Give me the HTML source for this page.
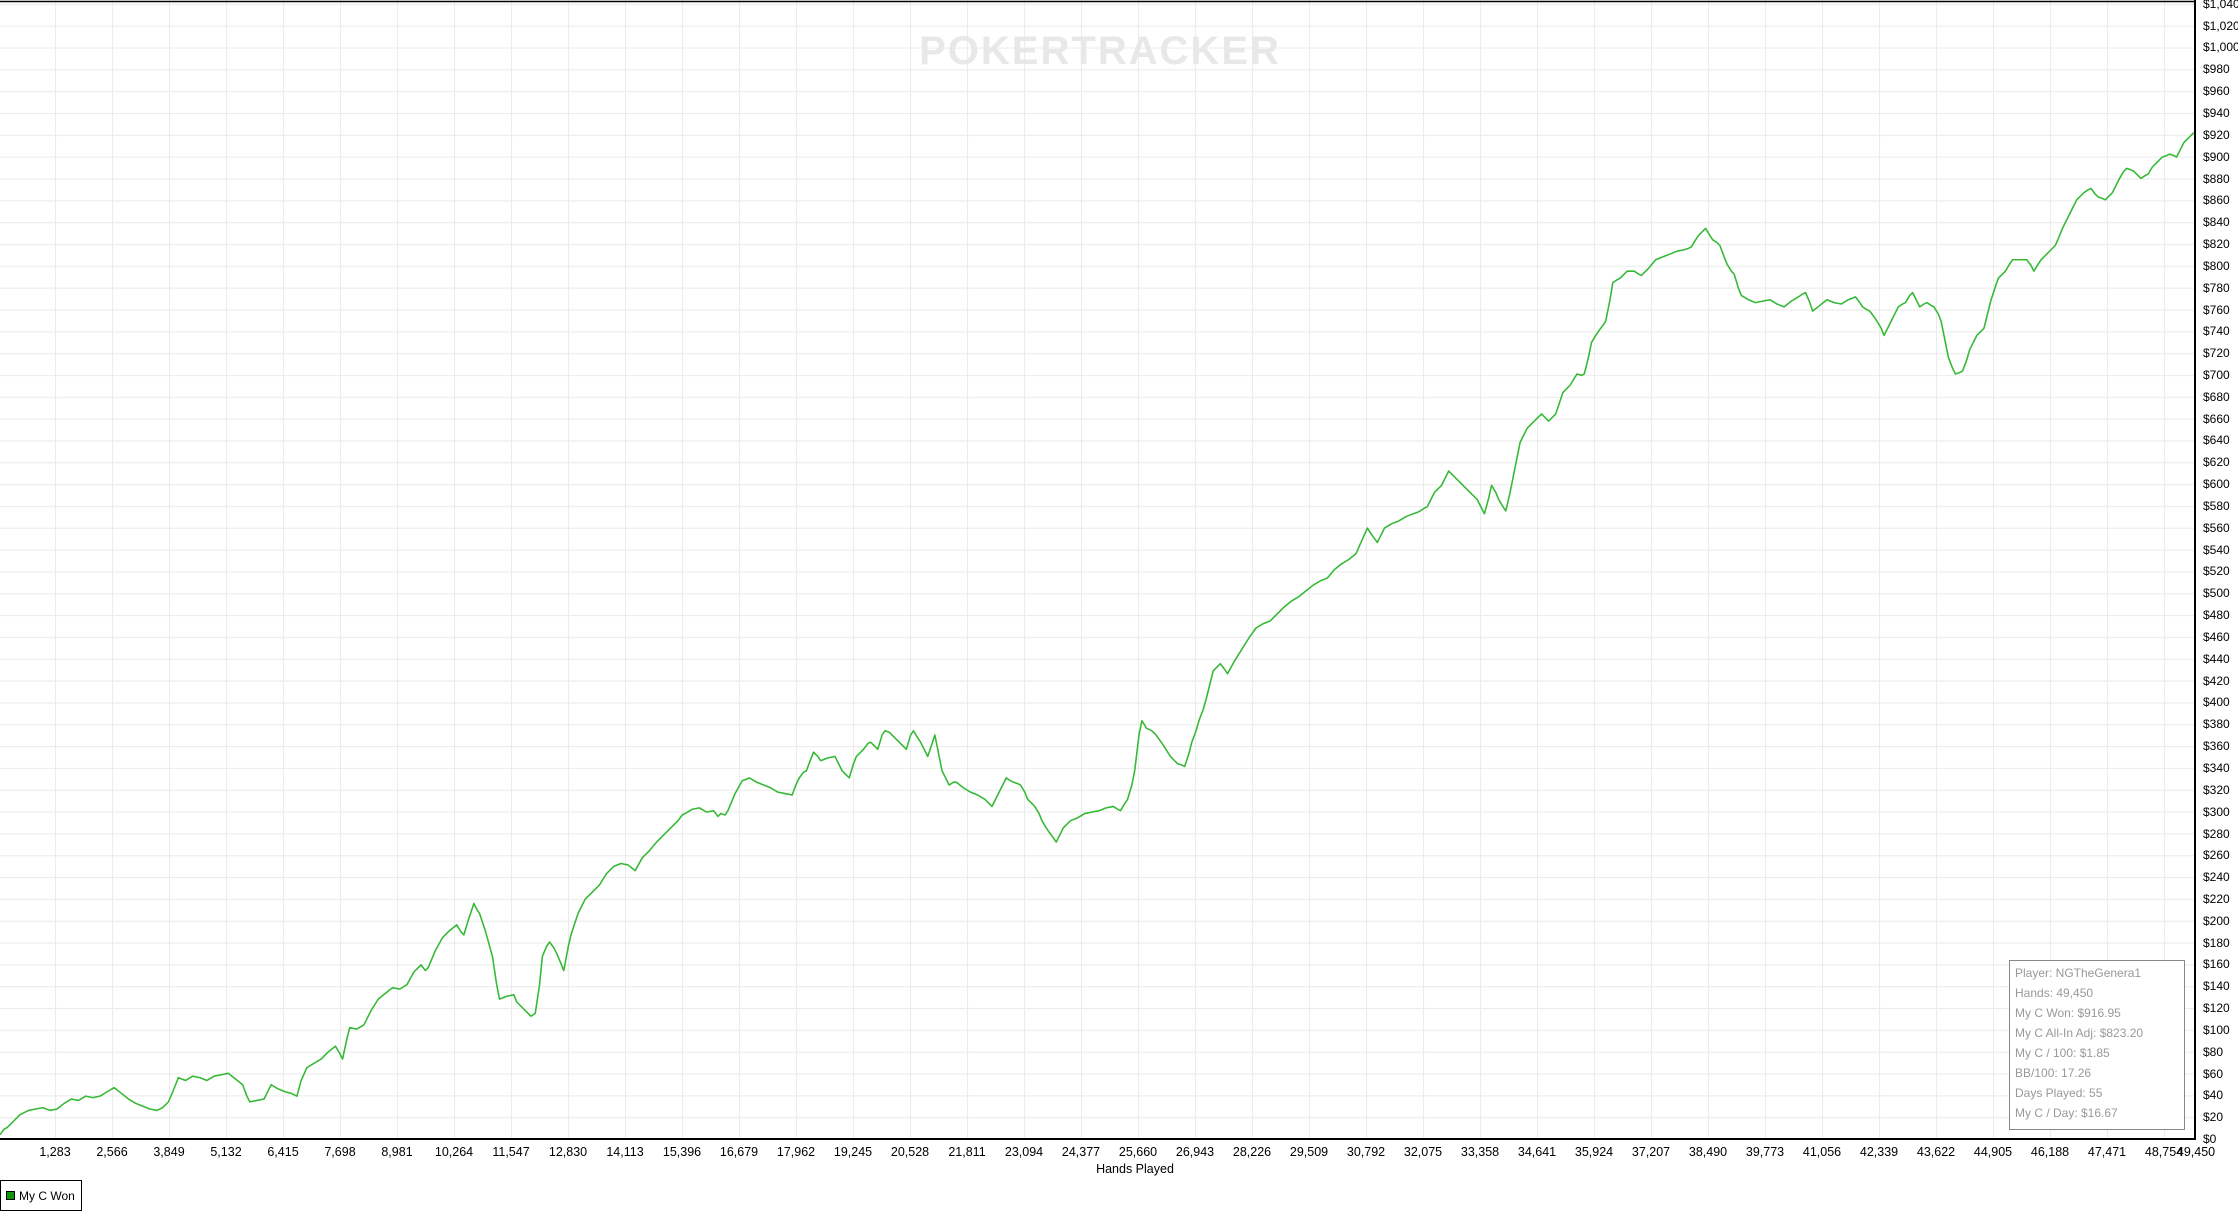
<!DOCTYPE html>
<html><head><meta charset="utf-8"><style>
html,body{margin:0;padding:0;background:#fff;}
svg{display:block;font-family:"Liberation Sans",sans-serif;}
</style></head><body>
<svg width="2238" height="1218" viewBox="0 0 2238 1218" xmlns="http://www.w3.org/2000/svg">
<defs>
<pattern id="hg" patternUnits="userSpaceOnUse" x="0" y="3.8" width="2195" height="21.83"><line x1="0" y1="0.5" x2="2195" y2="0.5" stroke="#ececec" stroke-width="1.2"/></pattern>
<pattern id="vg" patternUnits="userSpaceOnUse" x="-2" y="0" width="57" height="1139"><line x1="0.5" y1="0" x2="0.5" y2="1139" stroke="#ececec" stroke-width="1.2"/></pattern>
</defs>
<rect x="0" y="0" width="2195" height="1139" fill="url(#hg)"/>
<rect x="0" y="0" width="2195" height="1139" fill="url(#vg)"/>
<text x="1100" y="64" text-anchor="middle" font-size="40" font-weight="bold" fill="#e8e8e8" letter-spacing="2">POKERTRACKER</text>
<line x1="0" y1="1.5" x2="2196" y2="1.5" stroke="#000" stroke-width="1.5"/>
<line x1="0" y1="1139" x2="2196" y2="1139" stroke="#000" stroke-width="2"/>
<line x1="2195" y1="0" x2="2195" y2="1140" stroke="#000" stroke-width="2"/>
<g transform="scale(1.4273)" fill="none" stroke="#35b935" stroke-width="1.1" stroke-linejoin="round">
<polyline points="0,795 3,791 5,790 8,787 10,785 14,781 20,778 25,777 30,776 35,778 40,777 45,773 50,770 55,771 60,768 65,769 70,768 75,765 80,762 85,766 90,770 95,773 100,775 105,777 110,778 114,776 118,772 121,765 125,755 130,757 135,754 140,755 145,757 150,754 155,753 160,752 165,756 170,760 173,768 175,772 180,771 185,770 188,764 190,760 195,763 200,765 204,766 208,768 211,757 215,748 220,745 225,742 230,737 235,733 238,738 240,742 243,728 245,720 250,721 255,718 260,708 265,700 270,696 275,692 280,693 285,690 290,681 295,676 298,680 300,678 305,666 310,657 315,652 320,648 323,653 325,655 328,645 332,633 334,637 336,640 340,652 345,670 348,690 350,700 355,698 360,697 362,702 365,705 368,708 372,712 375,710 378,690 380,670 383,663 385,660 388,664 390,668 393,675 395,680 398,664 400,655 403,646 405,640 408,634 410,630 415,625 420,620 425,612 430,607 435,605 440,606 445,610 450,601 455,596 460,590 465,585 470,580 475,575 478,571 480,570 485,567 490,566 495,569 500,568 503,572 505,570 508,571 510,568 515,556 520,547 523,546 525,545 530,548 535,550 540,552 545,555 550,556 555,557 558,549 560,545 563,541 565,540 568,532 570,527 573,530 575,533 580,531 585,530 588,536 590,540 593,543 595,545 598,535 600,530 603,527 605,525 608,521 610,520 613,523 615,525 618,515 620,512 623,513 625,515 628,518 630,520 633,523 635,525 638,515 640,512 643,517 645,520 648,526 650,530 653,521 655,515 658,530 660,540 663,546 665,550 668,548 670,548 675,552 680,555 685,557 690,560 693,563 695,565 698,559 700,555 703,549 705,545 708,547 710,548 713,549 715,550 718,555 720,560 723,563 725,565 728,570 730,575 733,580 735,583 738,587 740,590 743,584 745,580 748,577 750,575 755,573 760,570 765,569 770,568 775,566 780,565 783,567 785,568 788,563 790,560 793,550 795,540 798,515 800,505 802,508 803,510 807,512 810,515 815,522 820,530 823,533 825,535 828,536 830,537 833,528 835,520 838,512 840,505 843,497 845,490 848,478 850,470 853,467 855,465 858,469 860,472 865,463 870,455 875,447 880,440 885,437 890,435 895,430 900,425 905,421 910,418 915,414 920,410 925,407 930,405 935,399 940,395 945,392 950,388 954,379 958,370 962,376 965,380 968,374 970,370 975,367 980,365 985,362 990,360 993,359 995,358 998,356 1000,355 1003,349 1005,345 1008,342 1010,340 1013,334 1015,330 1018,333 1020,335 1025,340 1030,345 1033,348 1035,350 1038,356 1040,360 1043,349 1045,340 1048,345 1050,350 1053,355 1055,358 1058,345 1060,335 1063,320 1065,310 1068,304 1070,300 1075,295 1080,290 1083,293 1085,295 1088,292 1090,290 1093,281 1095,275 1098,272 1100,270 1103,265 1105,262 1108,263 1110,262 1113,250 1115,240 1118,235 1120,232 1123,228 1125,225 1128,210 1130,198 1133,196 1135,195 1138,192 1140,190 1143,190 1145,190 1148,192 1150,193 1155,188 1160,182 1165,180 1170,178 1175,176 1180,175 1183,174 1185,173 1188,168 1190,165 1193,162 1195,160 1198,165 1200,168 1203,170 1205,172 1208,180 1210,185 1213,190 1215,192 1218,202 1220,207 1225,210 1230,212 1235,211 1240,210 1245,213 1250,215 1255,211 1260,208 1263,206 1265,205 1268,212 1270,218 1275,214 1280,210 1285,212 1290,213 1295,210 1300,208 1303,212 1305,215 1308,217 1310,218 1313,222 1315,225 1318,230 1320,235 1323,229 1325,225 1328,219 1330,215 1333,213 1335,212 1338,207 1340,205 1343,211 1345,215 1348,213 1350,212 1353,214 1355,215 1358,220 1360,225 1363,240 1365,250 1368,258 1370,262 1373,261 1375,260 1378,252 1380,245 1383,239 1385,235 1388,232 1390,230 1393,218 1395,210 1398,201 1400,195 1403,192 1405,190 1408,185 1410,182 1415,182 1420,182 1423,186 1425,190 1428,185 1430,182 1435,177 1440,172 1443,165 1445,160 1448,154 1450,150 1453,144 1455,140 1458,137 1460,135 1463,133 1465,132 1468,136 1470,138 1473,139 1475,140 1478,137 1480,135 1483,129 1485,125 1488,120 1490,118 1493,119 1495,120 1498,123 1500,125 1503,123 1505,122 1508,117 1510,115 1513,112 1515,110 1518,109 1520,108 1523,109 1525,110 1528,104 1530,100 1533,97 1535,95 1537,93"/>
</g>
<g font-size="12" fill="#000">
<text x="2203" y="1143">$0</text><text x="2203" y="1121">$20</text><text x="2203" y="1099">$40</text><text x="2203" y="1078">$60</text><text x="2203" y="1056">$80</text><text x="2203" y="1034">$100</text><text x="2203" y="1012">$120</text><text x="2203" y="990">$140</text><text x="2203" y="968">$160</text><text x="2203" y="947">$180</text><text x="2203" y="925">$200</text><text x="2203" y="903">$220</text><text x="2203" y="881">$240</text><text x="2203" y="859">$260</text><text x="2203" y="838">$280</text><text x="2203" y="816">$300</text><text x="2203" y="794">$320</text><text x="2203" y="772">$340</text><text x="2203" y="750">$360</text><text x="2203" y="728">$380</text><text x="2203" y="706">$400</text><text x="2203" y="685">$420</text><text x="2203" y="663">$440</text><text x="2203" y="641">$460</text><text x="2203" y="619">$480</text><text x="2203" y="597">$500</text><text x="2203" y="575">$520</text><text x="2203" y="554">$540</text><text x="2203" y="532">$560</text><text x="2203" y="510">$580</text><text x="2203" y="488">$600</text><text x="2203" y="466">$620</text><text x="2203" y="444">$640</text><text x="2203" y="423">$660</text><text x="2203" y="401">$680</text><text x="2203" y="379">$700</text><text x="2203" y="357">$720</text><text x="2203" y="335">$740</text><text x="2203" y="314">$760</text><text x="2203" y="292">$780</text><text x="2203" y="270">$800</text><text x="2203" y="248">$820</text><text x="2203" y="226">$840</text><text x="2203" y="204">$860</text><text x="2203" y="183">$880</text><text x="2203" y="161">$900</text><text x="2203" y="139">$920</text><text x="2203" y="117">$940</text><text x="2203" y="95">$960</text><text x="2203" y="73">$980</text><text x="2203" y="51">$1,000</text><text x="2203" y="30">$1,020</text><text x="2203" y="8">$1,040</text>
</g>
<g font-size="12.5" fill="#000" text-anchor="middle">
<text x="55" y="1156">1,283</text><text x="112" y="1156">2,566</text><text x="169" y="1156">3,849</text><text x="226" y="1156">5,132</text><text x="283" y="1156">6,415</text><text x="340" y="1156">7,698</text><text x="397" y="1156">8,981</text><text x="454" y="1156">10,264</text><text x="511" y="1156">11,547</text><text x="568" y="1156">12,830</text><text x="625" y="1156">14,113</text><text x="682" y="1156">15,396</text><text x="739" y="1156">16,679</text><text x="796" y="1156">17,962</text><text x="853" y="1156">19,245</text><text x="910" y="1156">20,528</text><text x="967" y="1156">21,811</text><text x="1024" y="1156">23,094</text><text x="1081" y="1156">24,377</text><text x="1138" y="1156">25,660</text><text x="1195" y="1156">26,943</text><text x="1252" y="1156">28,226</text><text x="1309" y="1156">29,509</text><text x="1366" y="1156">30,792</text><text x="1423" y="1156">32,075</text><text x="1480" y="1156">33,358</text><text x="1537" y="1156">34,641</text><text x="1594" y="1156">35,924</text><text x="1651" y="1156">37,207</text><text x="1708" y="1156">38,490</text><text x="1765" y="1156">39,773</text><text x="1822" y="1156">41,056</text><text x="1879" y="1156">42,339</text><text x="1936" y="1156">43,622</text><text x="1993" y="1156">44,905</text><text x="2050" y="1156">46,188</text><text x="2107" y="1156">47,471</text><text x="2164" y="1156">48,754</text><text x="2196" y="1156">49,450</text>
<text x="1135" y="1173">Hands Played</text>
</g>
<rect x="2009.5" y="960.5" width="175" height="169" fill="#fff" stroke="#888" stroke-width="1"/>
<g font-size="12" fill="#999">
<text x="2015" y="977">Player: NGTheGenera1</text>
<text x="2015" y="997">Hands: 49,450</text>
<text x="2015" y="1017">My C Won: $916.95</text>
<text x="2015" y="1037">My C All-In Adj: $823.20</text>
<text x="2015" y="1057">My C / 100: $1.85</text>
<text x="2015" y="1077">BB/100: 17.26</text>
<text x="2015" y="1097">Days Played: 55</text>
<text x="2015" y="1117">My C / Day: $16.67</text>
</g>
<rect x="0.5" y="1180.5" width="81" height="30" fill="#fff" stroke="#000" stroke-width="1"/>
<rect x="6.5" y="1191.5" width="8" height="8" fill="#0a9a0a" stroke="#000" stroke-width="1"/>
<text x="19" y="1200" font-size="12" fill="#000">My C Won</text>
</svg>
</body></html>
